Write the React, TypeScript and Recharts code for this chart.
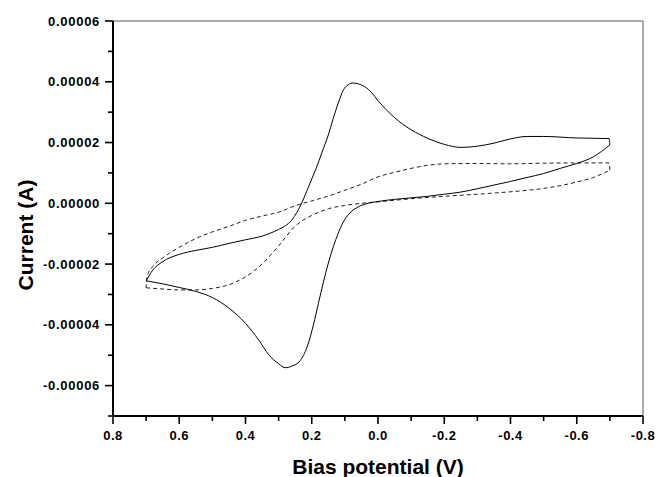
import React from "react";
import { LineChart, Line, XAxis, YAxis, ReferenceLine } from "recharts";

// Current values are given in units of 1e-5 A
const UNIT = 1e-5;

// Solid curve, forward sweep (0.7 V -> -0.7 V)
const solidFwdV = [0.7, 0.65, 0.6, 0.55, 0.5, 0.45, 0.4, 0.36, 0.33, 0.3, 0.28, 0.26, 0.235, 0.21, 0.195, 0.18, 0.165, 0.15, 0.135, 0.12, 0.105, 0.085, 0.06, 0.03, 0.0, -0.05, -0.1, -0.15, -0.2, -0.25, -0.3, -0.35, -0.4, -0.45, -0.5, -0.55, -0.6, -0.65, -0.7];
const solidFwdI = [-2.55, -2.65, -2.77, -2.9, -3.1, -3.45, -3.95, -4.5, -4.98, -5.28, -5.41, -5.36, -5.18, -4.6, -4.0, -3.3, -2.6, -1.97, -1.43, -0.98, -0.62, -0.32, -0.12, 0.0, 0.06, 0.13, 0.18, 0.23, 0.3, 0.37, 0.48, 0.6, 0.72, 0.85, 0.98, 1.15, 1.31, 1.53, 1.92];

// Solid curve, reverse sweep (-0.7 V -> 0.7 V)
const solidRevV = [-0.7, -0.698, -0.6, -0.5, -0.45, -0.4, -0.35, -0.3, -0.25, -0.2, -0.15, -0.1, -0.075, -0.05, -0.025, 0.0, 0.02, 0.04, 0.06, 0.075, 0.09, 0.105, 0.12, 0.135, 0.15, 0.17, 0.185, 0.2, 0.215, 0.23, 0.245, 0.26, 0.28, 0.3, 0.35, 0.4, 0.45, 0.5, 0.55, 0.6, 0.65, 0.68, 0.7];
const solidRevI = [1.92, 2.13, 2.15, 2.2, 2.2, 2.12, 1.98, 1.88, 1.84, 1.94, 2.14, 2.42, 2.6, 2.82, 3.08, 3.38, 3.65, 3.84, 3.93, 3.96, 3.9, 3.72, 3.3, 2.8, 2.25, 1.65, 1.2, 0.8, 0.4, 0.02, -0.3, -0.55, -0.74, -0.86, -1.08, -1.2, -1.32, -1.45, -1.55, -1.68, -1.92, -2.2, -2.55];

// Dashed curve, forward sweep (0.7 V -> -0.7 V)
const dashFwdV = [0.7, 0.65, 0.6, 0.55, 0.5, 0.45, 0.4, 0.35, 0.3, 0.25, 0.2, 0.15, 0.1, 0.05, 0.0, -0.05, -0.1, -0.2, -0.3, -0.4, -0.5, -0.6, -0.65, -0.7];
const dashFwdI = [-2.78, -2.82, -2.85, -2.85, -2.8, -2.68, -2.42, -2.0, -1.4, -0.75, -0.4, -0.18, -0.07, 0.0, 0.05, 0.1, 0.15, 0.23, 0.3, 0.38, 0.49, 0.7, 0.85, 1.09];

// Dashed curve, reverse sweep (-0.7 V -> 0.7 V)
const dashRevV = [-0.7, -0.698, -0.6, -0.5, -0.4, -0.3, -0.2, -0.15, -0.1, -0.05, 0.0, 0.05, 0.1, 0.15, 0.2, 0.25, 0.3, 0.35, 0.4, 0.45, 0.5, 0.55, 0.6, 0.65, 0.68, 0.698, 0.7];
const dashRevI = [1.09, 1.33, 1.33, 1.32, 1.3, 1.31, 1.3, 1.25, 1.15, 1.02, 0.87, 0.63, 0.43, 0.24, 0.08, -0.08, -0.29, -0.42, -0.56, -0.76, -0.94, -1.16, -1.45, -1.8, -2.08, -2.44, -2.78];

// Axis ticks
const xTicks = [0.8, 0.7, 0.6, 0.5, 0.4, 0.3, 0.2, 0.1, 0.0, -0.1, -0.2, -0.3, -0.4, -0.5, -0.6, -0.7, -0.8];
const yTicks = [-0.00007, -0.00006, -0.00005, -0.00004, -0.00003, -0.00002, -0.00001, 0, 0.00001, 0.00002, 0.00003, 0.00004, 0.00005, 0.00006];

const toRows = (vs: number[], is: number[]) => vs.map((v, k) => ({ v, i: is[k] * UNIT }));

const solidFwd = toRows(solidFwdV, solidFwdI);
const solidRev = toRows(solidRevV, solidRevI);
const dashFwd = toRows(dashFwdV, dashFwdI);
const dashRev = toRows(dashRevV, dashRevI);

const FONT = "'Liberation Sans', Arial, Helvetica, sans-serif";

const YTick = (props: any) => {
  const { x, y, payload } = props;
  const v = payload.value as number;
  const major = Math.abs(Math.round(v * 1e5)) % 2 === 0;
  return (
    <g>
      <line x1={x - (major ? 8 : 5)} x2={x} y1={y} y2={y} stroke="#000" strokeWidth={1.6} />
      {major && (
        <text x={x - 13} y={y} dy={4.5} textAnchor="end" fontFamily={FONT} fontWeight="bold" fontSize={13} letterSpacing={0.7} fill="#000">
          {v.toFixed(5)}
        </text>
      )}
    </g>
  );
};

const XTick = (props: any) => {
  const { x, y, payload } = props;
  const v = payload.value as number;
  const major = Math.abs(Math.round(v * 10)) % 2 === 0;
  return (
    <g>
      <line x1={x} x2={x} y1={y} y2={y + (major ? 8 : 5)} stroke="#000" strokeWidth={1.6} />
      {major && (
        <text x={x} y={y + 24} textAnchor="middle" fontFamily={FONT} fontWeight="bold" fontSize={13} letterSpacing={0.5} fill="#000">
          {v.toFixed(1)}
        </text>
      )}
    </g>
  );
};

const XTitle = () => (
  <text x={378} y={474} textAnchor="middle" fontFamily={FONT} fontWeight="bold" fontSize={21} fill="#000">
    Bias potential (V)
  </text>
);

const YTitle = () => (
  <text x={33} y={235} transform="rotate(-90, 33, 235)" textAnchor="middle" fontFamily={FONT} fontWeight="bold" fontSize={21} fill="#000">
    Current (A)
  </text>
);

export default function App() {
  return (
    <div style={{ position: "fixed", left: 0, top: 0, width: 657, height: 477, background: "#fff", overflow: "hidden" }}>
      <LineChart width={657} height={477} margin={{ top: 21, right: 14, bottom: 1, left: 0 }}>
        <XAxis
          type="number"
          dataKey="v"
          domain={[-0.8, 0.8]}
          reversed
          ticks={xTicks}
          interval={0}
          height={60}
          tickSize={0}
          tickMargin={0}
          tickLine={false}
          axisLine={{ stroke: "#000", strokeWidth: 2 }}
          tick={<XTick />}
          allowDataOverflow
          label={{ content: () => <XTitle /> }}
        />
        <YAxis
          type="number"
          dataKey="i"
          domain={[-0.00007, 0.00006]}
          ticks={yTicks}
          interval={0}
          width={113}
          tickSize={0}
          tickMargin={0}
          tickLine={false}
          axisLine={{ stroke: "#000", strokeWidth: 2 }}
          tick={<YTick />}
          allowDataOverflow
          label={{ content: () => <YTitle /> }}
        />
        <ReferenceLine y={0.00006} stroke="#555" strokeWidth={1} ifOverflow="visible" />
        <ReferenceLine x={-0.8} stroke="#555" strokeWidth={1} ifOverflow="visible" />
        <Line data={dashFwd} dataKey="i" type="monotone" stroke="#222" strokeWidth={1} strokeDasharray="4 3" dot={false} activeDot={false} isAnimationActive={false} />
        <Line data={dashRev} dataKey="i" type="monotone" stroke="#222" strokeWidth={1} strokeDasharray="4 3" dot={false} activeDot={false} isAnimationActive={false} />
        <Line data={solidFwd} dataKey="i" type="monotone" stroke="#000" strokeWidth={1} dot={false} activeDot={false} isAnimationActive={false} />
        <Line data={solidRev} dataKey="i" type="monotone" stroke="#000" strokeWidth={1} dot={false} activeDot={false} isAnimationActive={false} />
      </LineChart>
    </div>
  );
}
